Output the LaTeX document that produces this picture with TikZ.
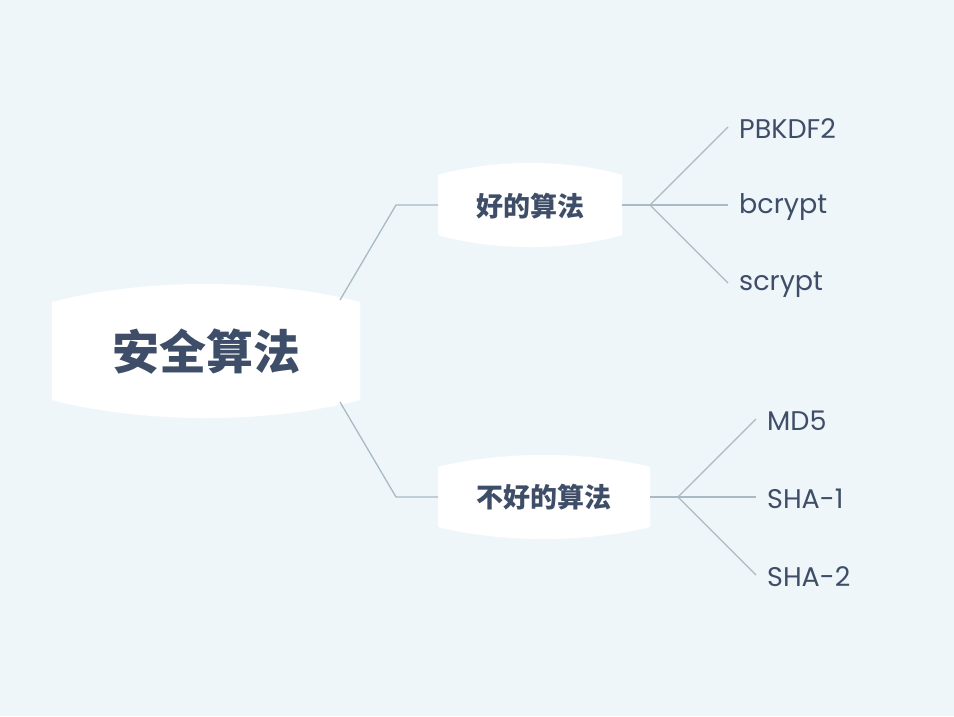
\documentclass[tikz,border=0pt]{standalone}
\usepackage{fontspec}
\setmainfont{Poppins}
\newfontfamily\cjk{Noto Sans CJK SC}
\definecolor{bg}{HTML}{EFF6FA}
\definecolor{ln}{HTML}{A8BAC6}
\definecolor{tx}{HTML}{3F4E68}
\newcommand{\bulgeshape}[5]{% x1 y1 x2 y2 b  (y down)
  \fill[white] (#1,#2+#5) .. controls ({#1+0.3*(#3-#1)},{#2-#5/3}) and ({#3-0.3*(#3-#1)},{#2-#5/3}) .. (#3,#2+#5)
   -- (#3,#4-#5) .. controls ({#3-0.3*(#3-#1)},{#4+#5/3}) and ({#1+0.3*(#3-#1)},{#4+#5/3}) .. (#1,#4-#5) -- cycle;}
\begin{document}
\begin{tikzpicture}[x=1pt,y=-1pt,
  cn/.style={text=tx,font=\cjk\bfseries},
  leaf/.style={text=tx,anchor=west,font=\fontsize{27}{30}\selectfont,inner sep=0pt,yshift=-2pt},
  con/.style={draw=ln,line width=1.3pt}]
\fill[bg] (0,0) rectangle (954,716);
\useasboundingbox (0,0) rectangle (954,716);
\bulgeshape{52}{284}{360}{418}{18}
\bulgeshape{438}{163}{622}{247}{12}
\bulgeshape{438}{455}{650}{539}{12}
\node[cn,font=\cjk\bfseries\fontsize{47}{50}\selectfont] (root) at (206,352) {安全算法};
\node[cn,font=\cjk\bfseries\fontsize{27}{30}\selectfont] (good) at (530,206) {好的算法};
\node[cn,font=\cjk\bfseries\fontsize{27}{30}\selectfont] (bad) at (544,497) {不好的算法};
\coordinate (rt) at (340,300); \coordinate (rb) at (340,402);
\coordinate (gk) at (396,205); \coordinate (gi) at (438,205);
\coordinate (bk) at (396,497); \coordinate (bi) at (438,497);
\coordinate (go) at (622,205); \coordinate (gf) at (650,205);
\coordinate (bo) at (650,497); \coordinate (bf) at (678,497);
\coordinate (e1) at (728,127); \coordinate (e2) at (728,205); \coordinate (e3) at (728,283);
\coordinate (f1) at (756,419); \coordinate (f2) at (756,497); \coordinate (f3) at (756,575);
\node[leaf] (p1) at (739,127) {PBKDF2};
\node[leaf] (p2) at (739,205) {bcrypt};
\node[leaf] (p3) at (739,283) {scrypt};
\node[leaf] (q1) at (767,419) {MD5};
\node[leaf] (q2) at (767,497) {SHA-1};
\node[leaf] (q3) at (767,575) {SHA-2};
\draw[con] (rt) -- (gk) -- (gi);
\draw[con] (rb) -- (bk) -- (bi);
\draw[con] (go) -- (gf);
\draw[con] (bo) -- (bf);
\foreach \n in {e1,e2,e3} \draw[con] (gf) -- (\n);
\foreach \n in {f1,f2,f3} \draw[con] (bf) -- (\n);
\end{tikzpicture}
\end{document}
